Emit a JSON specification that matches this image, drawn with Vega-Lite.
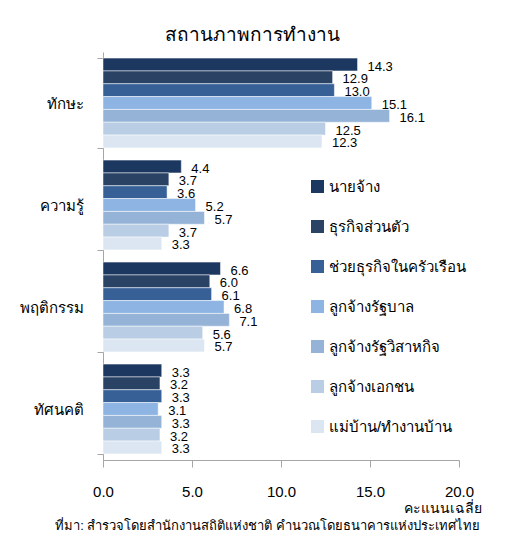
{
  "$schema": "https://vega.github.io/schema/vega-lite/v6.json",
  "autosize": {"type": "none"},
  "padding": {"left": 103, "top": 52, "right": 50, "bottom": 81},
  "width": 356,
  "height": 408,
  "background": "white",
  "config": {
    "font": "Liberation Sans",
    "view": {"stroke": null}
  },
  "title": {
    "text": "ที่มา: สำรวจโดยสำนักงานสถิติแห่งชาติ คำนวณโดยธนาคารแห่งประเทศไทย",
    "orient": "bottom",
    "anchor": "end",
    "frame": "group",
    "fontSize": 13,
    "fontWeight": "normal",
    "color": "#000000",
    "dx": 21,
    "offset": 5
  },
  "data": {
    "values": [
      {"group": "ทักษะ", "status": "นายจ้าง", "score": 14.3},
      {"group": "ทักษะ", "status": "ธุรกิจส่วนตัว", "score": 12.9},
      {"group": "ทักษะ", "status": "ช่วยธุรกิจในครัวเรือน", "score": 13.0},
      {"group": "ทักษะ", "status": "ลูกจ้างรัฐบาล", "score": 15.1},
      {"group": "ทักษะ", "status": "ลูกจ้างรัฐวิสาหกิจ", "score": 16.1},
      {"group": "ทักษะ", "status": "ลูกจ้างเอกชน", "score": 12.5},
      {"group": "ทักษะ", "status": "แม่บ้าน/ทำงานบ้าน", "score": 12.3},
      {"group": "ความรู้", "status": "นายจ้าง", "score": 4.4},
      {"group": "ความรู้", "status": "ธุรกิจส่วนตัว", "score": 3.7},
      {"group": "ความรู้", "status": "ช่วยธุรกิจในครัวเรือน", "score": 3.6},
      {"group": "ความรู้", "status": "ลูกจ้างรัฐบาล", "score": 5.2},
      {"group": "ความรู้", "status": "ลูกจ้างรัฐวิสาหกิจ", "score": 5.7},
      {"group": "ความรู้", "status": "ลูกจ้างเอกชน", "score": 3.7},
      {"group": "ความรู้", "status": "แม่บ้าน/ทำงานบ้าน", "score": 3.3},
      {"group": "พฤติกรรม", "status": "นายจ้าง", "score": 6.6},
      {"group": "พฤติกรรม", "status": "ธุรกิจส่วนตัว", "score": 6.0},
      {"group": "พฤติกรรม", "status": "ช่วยธุรกิจในครัวเรือน", "score": 6.1},
      {"group": "พฤติกรรม", "status": "ลูกจ้างรัฐบาล", "score": 6.8},
      {"group": "พฤติกรรม", "status": "ลูกจ้างรัฐวิสาหกิจ", "score": 7.1},
      {"group": "พฤติกรรม", "status": "ลูกจ้างเอกชน", "score": 5.6},
      {"group": "พฤติกรรม", "status": "แม่บ้าน/ทำงานบ้าน", "score": 5.7},
      {"group": "ทัศนคติ", "status": "นายจ้าง", "score": 3.3},
      {"group": "ทัศนคติ", "status": "ธุรกิจส่วนตัว", "score": 3.2},
      {"group": "ทัศนคติ", "status": "ช่วยธุรกิจในครัวเรือน", "score": 3.3},
      {"group": "ทัศนคติ", "status": "ลูกจ้างรัฐบาล", "score": 3.1},
      {"group": "ทัศนคติ", "status": "ลูกจ้างรัฐวิสาหกิจ", "score": 3.3},
      {"group": "ทัศนคติ", "status": "ลูกจ้างเอกชน", "score": 3.2},
      {"group": "ทัศนคติ", "status": "แม่บ้าน/ทำงานบ้าน", "score": 3.3}
    ]
  },
  "encoding": {
    "y": {
      "field": "group",
      "type": "nominal",
      "sort": ["ทักษะ", "ความรู้", "พฤติกรรม", "ทัศนคติ"],
      "scale": {"paddingInner": 0.12, "paddingOuter": 0.06},
      "axis": {
        "title": "สถานภาพการทำงาน",
        "titleAngle": 0,
        "titleAlign": "center",
        "titleBaseline": "alphabetic",
        "titleX": 149,
        "titleY": -12,
        "titleFontSize": 19,
        "titleFontWeight": "normal",
        "titleColor": "#000000",
        "tickBand": "extent",
        "domainColor": "#A6A6A6",
        "tickColor": "#A6A6A6",
        "tickSize": 6,
        "labelFontSize": 15,
        "labelColor": "#000000",
        "labelPadding": 14
      }
    },
    "yOffset": {
      "field": "status",
      "type": "nominal",
      "sort": ["นายจ้าง", "ธุรกิจส่วนตัว", "ช่วยธุรกิจในครัวเรือน", "ลูกจ้างรัฐบาล", "ลูกจ้างรัฐวิสาหกิจ", "ลูกจ้างเอกชน", "แม่บ้าน/ทำงานบ้าน"],
      "scale": {"paddingInner": 0, "paddingOuter": 0}
    },
    "x": {
      "field": "score",
      "type": "quantitative",
      "scale": {"domain": [0, 20], "nice": false},
      "axis": {
        "values": [0, 5, 10, 15, 20],
        "format": ".1f",
        "grid": false,
        "domainColor": "#A6A6A6",
        "tickColor": "#A6A6A6",
        "tickSize": 7,
        "labelFontSize": 15,
        "labelColor": "#000000",
        "labelPadding": 17,
        "labelFlush": false,
        "title": "คะแนนเฉลี่ย",
        "titleFontSize": 14,
        "titleFontWeight": "normal",
        "titleColor": "#000000",
        "titleAlign": "right",
        "titleAnchor": "end",
        "titleBaseline": "alphabetic",
        "titleX": 378,
        "titleY": 52
      }
    }
  },
  "layer": [
    {
      "mark": {"type": "bar", "stroke": "white", "strokeWidth": 0.5},
      "encoding": {
        "color": {
          "field": "status",
          "type": "nominal",
          "sort": ["นายจ้าง", "ธุรกิจส่วนตัว", "ช่วยธุรกิจในครัวเรือน", "ลูกจ้างรัฐบาล", "ลูกจ้างรัฐวิสาหกิจ", "ลูกจ้างเอกชน", "แม่บ้าน/ทำงานบ้าน"],
          "scale": {
            "domain": ["นายจ้าง", "ธุรกิจส่วนตัว", "ช่วยธุรกิจในครัวเรือน", "ลูกจ้างรัฐบาล", "ลูกจ้างรัฐวิสาหกิจ", "ลูกจ้างเอกชน", "แม่บ้าน/ทำงานบ้าน"],
            "range": ["#1C3760", "#2A4264", "#366096", "#8DB4E2", "#95B3D7", "#B9CDE5", "#DCE6F2"]
          },
          "legend": {
            "title": null,
            "orient": "none",
            "legendX": 207,
            "legendY": 127,
            "padding": 0,
            "symbolType": "square",
            "symbolSize": 169,
            "symbolStrokeWidth": 0,
            "labelFontSize": 15,
            "labelColor": "#000000",
            "labelOffset": 4,
            "rowPadding": 24,
            "labelLimit": 300
          }
        }
      }
    },
    {
      "mark": {"type": "text", "align": "left", "baseline": "middle", "dx": 10, "dy": 2, "fontSize": 13, "color": "#000000"},
      "encoding": {
        "text": {"field": "score", "type": "quantitative", "format": ".1f"}
      }
    }
  ]
}
